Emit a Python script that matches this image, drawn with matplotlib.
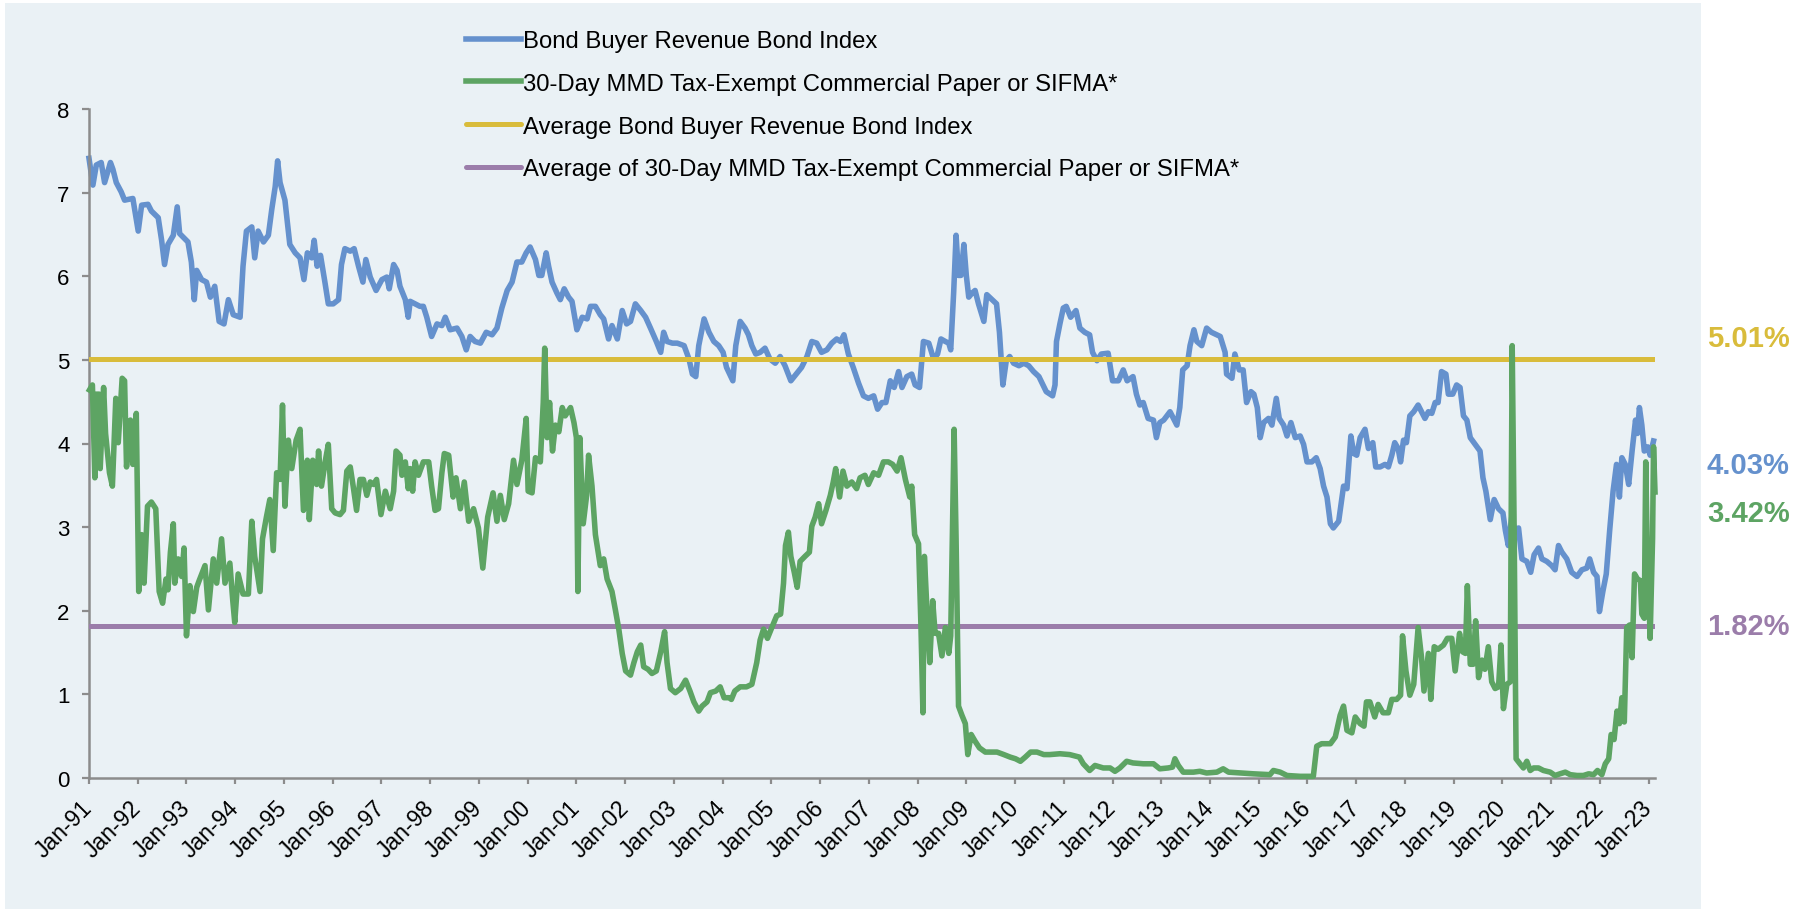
import matplotlib
matplotlib.use("Agg")
import matplotlib.pyplot as plt
from matplotlib.patches import Rectangle

plt.rcParams['font.family'] = ['Liberation Sans', 'DejaVu Sans']

# ---------------- data (decimal years, percent) ----------------
bond_x = [1991.00, 1991.08, 1991.15, 1991.25, 1991.32, 1991.44, 1991.49, 1991.56, 1991.66, 1991.73,
          1991.90, 1992.01, 1992.08, 1992.21, 1992.28, 1992.42, 1992.49, 1992.55, 1992.62, 1992.73,
          1992.81, 1992.86, 1993.03, 1993.10, 1993.16, 1993.21, 1993.31, 1993.41, 1993.49, 1993.58,
          1993.67, 1993.77, 1993.86, 1993.96, 1994.10, 1994.16, 1994.23, 1994.34, 1994.40, 1994.47,
          1994.58, 1994.68, 1994.75, 1994.82, 1994.87, 1994.92, 1995.02, 1995.12, 1995.23, 1995.33,
          1995.41, 1995.48, 1995.57, 1995.62, 1995.68, 1995.75, 1995.84, 1995.91, 1996.01, 1996.12,
          1996.18, 1996.25, 1996.36, 1996.44, 1996.53, 1996.62, 1996.68, 1996.77, 1996.89, 1997.01,
          1997.11, 1997.16, 1997.25, 1997.32, 1997.38, 1997.49, 1997.55,
          1997.59, 1997.69, 1997.79, 1997.86, 1997.93, 1998.03, 1998.14, 1998.24, 1998.31, 1998.41,
          1998.55, 1998.65, 1998.74, 1998.82, 1998.92, 1999.03, 1999.15, 1999.27, 1999.37, 1999.47,
          1999.58, 1999.68, 1999.78, 1999.88, 1999.97, 2000.05, 2000.16, 2000.23, 2000.29, 2000.38,
          2000.43, 2000.50, 2000.60, 2000.67, 2000.75, 2000.84, 2000.91, 2001.01, 2001.12, 2001.22,
          2001.29, 2001.39, 2001.49, 2001.56, 2001.66, 2001.73, 2001.84, 2001.94, 2002.03, 2002.11,
          2002.21, 2002.32, 2002.42, 2002.52, 2002.64, 2002.73, 2002.79, 2002.86, 2002.97, 2003.07,
          2003.21, 2003.31, 2003.38, 2003.45, 2003.51, 2003.62, 2003.72, 2003.82, 2003.92,
          2004.01, 2004.08, 2004.21, 2004.27, 2004.36, 2004.46, 2004.53, 2004.60, 2004.68, 2004.77,
          2004.87, 2004.97, 2005.08, 2005.18, 2005.28, 2005.40, 2005.51, 2005.62, 2005.73, 2005.83,
          2005.93, 2006.03, 2006.14, 2006.24, 2006.34, 2006.42, 2006.49, 2006.58, 2006.68, 2006.79,
          2006.89, 2006.99, 2007.10, 2007.18, 2007.27, 2007.35, 2007.44, 2007.52, 2007.61, 2007.68,
          2007.78, 2007.88, 2007.95, 2008.04, 2008.12, 2008.23, 2008.33, 2008.41, 2008.48, 2008.57,
          2008.64, 2008.68, 2008.74, 2008.79, 2008.84, 2008.89, 2008.95, 2009.00, 2009.05, 2009.12,
          2009.18, 2009.25, 2009.36, 2009.42, 2009.53, 2009.62, 2009.68, 2009.75, 2009.82, 2009.89,
          2009.97, 2010.08, 2010.18, 2010.28, 2010.38, 2010.49,
          2010.64, 2010.77, 2010.82, 2010.85, 2010.92, 2010.99, 2011.05, 2011.14, 2011.25, 2011.33,
          2011.43, 2011.53, 2011.59, 2011.68, 2011.77, 2011.91, 2012.00, 2012.12, 2012.22, 2012.30,
          2012.42, 2012.49, 2012.56, 2012.63, 2012.73, 2012.84, 2012.90, 2012.97, 2013.05, 2013.18,
          2013.32, 2013.38, 2013.44, 2013.53, 2013.59, 2013.67, 2013.73, 2013.83, 2013.93, 2014.03,
          2014.14, 2014.21, 2014.31, 2014.34, 2014.45, 2014.51, 2014.60, 2014.68, 2014.75, 2014.84,
          2014.90, 2014.97, 2015.03, 2015.10, 2015.20, 2015.27, 2015.36, 2015.42, 2015.51, 2015.58,
          2015.66, 2015.75, 2015.85, 2015.92, 2015.99, 2016.09, 2016.18, 2016.26, 2016.33, 2016.40,
          2016.47, 2016.53, 2016.64, 2016.74, 2016.81, 2016.89, 2016.95, 2017.01, 2017.08, 2017.18,
          2017.25,
          2017.34, 2017.40, 2017.49, 2017.59, 2017.66, 2017.73, 2017.79, 2017.86, 2017.91, 2017.97,
          2018.03, 2018.10, 2018.18, 2018.27, 2018.34, 2018.41, 2018.48, 2018.55, 2018.62, 2018.68,
          2018.75, 2018.84, 2018.89, 2018.98, 2019.06, 2019.13, 2019.20, 2019.27, 2019.34, 2019.44,
          2019.54, 2019.60, 2019.66, 2019.75, 2019.83, 2019.92, 2020.01, 2020.06, 2020.12, 2020.19,
          2020.26, 2020.33, 2020.40, 2020.50, 2020.58, 2020.65, 2020.74, 2020.81, 2020.91, 2021.01,
          2021.08, 2021.15, 2021.22, 2021.32, 2021.42, 2021.53, 2021.63, 2021.73, 2021.79, 2021.87,
          2021.94, 2021.99, 2022.06, 2022.13, 2022.20, 2022.27, 2022.34, 2022.40, 2022.45, 2022.52,
          2022.59, 2022.66, 2022.73, 2022.77, 2022.81, 2022.86, 2022.91, 2022.98, 2023.03, 2023.10]
bond_y = [7.41, 7.09, 7.33, 7.36, 7.12, 7.36, 7.28, 7.12, 7.01, 6.91,
          6.93, 6.54, 6.85, 6.86, 6.78, 6.70, 6.43, 6.14, 6.38, 6.49,
          6.83, 6.51, 6.41, 6.17, 5.72, 6.07, 5.96, 5.93, 5.75, 5.88,
          5.46, 5.43, 5.72, 5.54, 5.51, 6.12, 6.54, 6.59, 6.22, 6.54,
          6.41, 6.49, 6.80, 7.07, 7.38, 7.12, 6.91, 6.38, 6.28, 6.22,
          5.96, 6.28, 6.22, 6.43, 6.12, 6.25, 5.93, 5.67, 5.67, 5.72,
          6.14, 6.33, 6.30, 6.33, 6.12, 5.93, 6.20, 5.99, 5.83, 5.96,
          5.99, 5.85, 6.14, 6.07, 5.88, 5.72, 5.51,
          5.70, 5.67, 5.64, 5.64, 5.51, 5.28, 5.43, 5.41, 5.51, 5.36,
          5.38, 5.28, 5.12, 5.28, 5.22, 5.20, 5.33, 5.30, 5.38, 5.62,
          5.83, 5.93, 6.17, 6.17, 6.28, 6.35, 6.20, 6.01, 6.01, 6.28,
          6.12, 5.93, 5.80, 5.72, 5.85, 5.75, 5.70, 5.36, 5.51, 5.49,
          5.64, 5.64, 5.54, 5.49, 5.25, 5.41, 5.25, 5.59, 5.43, 5.46,
          5.67, 5.59, 5.51, 5.38, 5.22, 5.09, 5.33, 5.22, 5.20, 5.20,
          5.17, 5.01, 4.83, 4.80, 5.17, 5.49, 5.33, 5.22, 5.17,
          5.09, 4.91, 4.75, 5.17, 5.46, 5.38, 5.30, 5.17, 5.07, 5.09,
          5.14, 5.01, 4.96, 5.04, 4.93, 4.75, 4.83, 4.91, 5.04, 5.22,
          5.20, 5.09, 5.12, 5.20, 5.25, 5.22, 5.30, 5.07, 4.91, 4.72,
          4.57, 4.54, 4.57, 4.41, 4.49, 4.49, 4.75, 4.67, 4.86, 4.67,
          4.80, 4.83, 4.70, 4.67, 5.22, 5.20, 5.01, 5.07, 5.25, 5.22,
          5.20, 5.12, 5.80, 6.49, 6.01, 6.01, 6.38, 6.01, 5.75, 5.80,
          5.83, 5.67, 5.46, 5.78, 5.72, 5.67, 5.33, 4.70, 4.99, 5.04,
          4.96, 4.93, 4.96, 4.93, 4.86, 4.80,
          4.62, 4.57, 4.70, 5.22, 5.43, 5.62, 5.64, 5.51, 5.59, 5.38,
          5.33, 5.30, 5.09, 4.99, 5.07, 5.08, 4.75, 4.75, 4.88, 4.75,
          4.80, 4.59, 4.46, 4.49, 4.30, 4.28, 4.07, 4.25, 4.28, 4.38,
          4.22, 4.43, 4.88, 4.93, 5.17, 5.36, 5.22, 5.17, 5.38, 5.33,
          5.30, 5.28, 5.09, 4.83, 4.78, 5.07, 4.88, 4.88, 4.49, 4.62,
          4.59, 4.43, 4.07, 4.25, 4.30, 4.22, 4.54, 4.30, 4.22, 4.09,
          4.25, 4.07, 4.09, 3.99, 3.78, 3.78, 3.83, 3.70, 3.49, 3.36,
          3.04, 2.99, 3.07, 3.49, 3.46, 4.09, 3.88, 3.86, 4.07, 4.17,
          3.94,
          4.01, 3.72, 3.72, 3.75, 3.72, 3.86, 4.01, 3.94, 3.78, 4.04,
          4.01, 4.33, 4.38, 4.46, 4.38, 4.30, 4.38, 4.36, 4.49, 4.49,
          4.86, 4.83, 4.59, 4.59, 4.70, 4.67, 4.33, 4.28, 4.07, 3.99,
          3.91, 3.59, 3.43, 3.09, 3.33, 3.22, 3.17, 2.96, 2.78, 3.12,
          2.94, 2.99, 2.62, 2.59, 2.46, 2.67, 2.75, 2.62, 2.59, 2.54,
          2.49, 2.78, 2.70, 2.62, 2.46, 2.41, 2.49, 2.51, 2.62, 2.46,
          2.41, 1.99, 2.23, 2.44, 2.96, 3.43, 3.75, 3.36, 3.83, 3.75,
          3.51, 3.91, 4.28, 4.12, 4.43, 4.22, 3.91, 3.96, 3.86, 4.03]

sifma_x = [1991.01, 1991.07, 1991.12, 1991.15, 1991.21, 1991.23, 1991.30, 1991.34, 1991.42, 1991.48,
           1991.55, 1991.60, 1991.68, 1991.73, 1991.77, 1991.85, 1991.90, 1991.97, 1992.02, 1992.08,
           1992.13, 1992.20, 1992.28, 1992.37, 1992.44, 1992.51, 1992.58, 1992.62, 1992.67, 1992.73,
           1992.76, 1992.83, 1992.90, 1992.95, 1993.00, 1993.07, 1993.14, 1993.21, 1993.26, 1993.38,
           1993.45, 1993.55, 1993.62, 1993.72, 1993.79, 1993.89, 1993.95, 1993.99, 1994.06, 1994.16,
           1994.27, 1994.34, 1994.40, 1994.51, 1994.56, 1994.64, 1994.71, 1994.78, 1994.85, 1994.92,
           1994.97, 1995.02, 1995.09, 1995.16, 1995.25, 1995.33, 1995.40, 1995.48, 1995.52, 1995.59,
           1995.67, 1995.71, 1995.77, 1995.86, 1995.91, 1995.98, 1996.05, 1996.15, 1996.22, 1996.29,
           1996.36, 1996.42, 1996.49, 1996.56, 1996.63, 1996.70, 1996.77, 1996.84, 1996.90, 1996.99,
           1997.08, 1997.18, 1997.25, 1997.30, 1997.38, 1997.42, 1997.49, 1997.55,
           1997.59, 1997.64, 1997.69, 1997.76, 1997.86, 1997.97, 1998.03, 1998.10, 1998.17, 1998.24,
           1998.29, 1998.38, 1998.47, 1998.53, 1998.62, 1998.70, 1998.79, 1998.89, 1998.99, 1999.08,
           1999.18, 1999.29, 1999.37, 1999.44, 1999.52, 1999.61, 1999.71, 1999.78, 1999.88, 1999.97,
           2000.01, 2000.09, 2000.16, 2000.26, 2000.32, 2000.35, 2000.40, 2000.45, 2000.51, 2000.57,
           2000.64, 2000.71, 2000.77, 2000.88, 2000.95, 2001.00, 2001.03, 2001.07, 2001.14, 2001.21,
           2001.25, 2001.32, 2001.39, 2001.49, 2001.56, 2001.63, 2001.73, 2001.80, 2001.87, 2001.94,
           2002.01, 2002.11, 2002.18, 2002.25, 2002.32, 2002.38, 2002.47, 2002.55, 2002.64, 2002.73,
           2002.81, 2002.86, 2002.93, 2003.03, 2003.14, 2003.24, 2003.33, 2003.41, 2003.51, 2003.58,
           2003.68, 2003.75, 2003.86, 2003.95, 2004.03, 2004.13,
           2004.18, 2004.25, 2004.36, 2004.49, 2004.60, 2004.70, 2004.77, 2004.84, 2004.92, 2005.01,
           2005.11, 2005.19, 2005.25, 2005.29, 2005.35, 2005.40, 2005.47, 2005.53, 2005.59, 2005.69,
           2005.78, 2005.83, 2005.90, 2005.97, 2006.03, 2006.12, 2006.21, 2006.27, 2006.32, 2006.40,
           2006.47, 2006.55, 2006.65, 2006.75, 2006.82, 2006.92, 2006.99, 2007.10, 2007.20, 2007.30,
           2007.40, 2007.49, 2007.58, 2007.66, 2007.75, 2007.84, 2007.88, 2007.94, 2008.02, 2008.07,
           2008.11, 2008.14, 2008.21, 2008.25, 2008.31, 2008.36, 2008.43, 2008.50, 2008.57, 2008.64,
           2008.68, 2008.72, 2008.75, 2008.79, 2008.84, 2008.91, 2008.98, 2009.03, 2009.10, 2009.18,
           2009.27, 2009.39, 2009.49, 2009.63, 2009.77, 2009.90, 2010.01, 2010.11, 2010.21, 2010.32,
           2010.45, 2010.59, 2010.69,
           2010.71, 2010.92, 2011.12, 2011.32, 2011.40, 2011.53, 2011.64, 2011.81, 2011.95, 2012.05,
           2012.15, 2012.29, 2012.42, 2012.63, 2012.84, 2012.97, 2013.14, 2013.23, 2013.28, 2013.35,
           2013.45, 2013.66, 2013.79, 2013.93, 2014.14, 2014.27, 2014.38, 2014.62, 2014.89, 2015.23,
           2015.30, 2015.44, 2015.58, 2015.85, 2016.12, 2016.19, 2016.29, 2016.47, 2016.57, 2016.67,
           2016.74, 2016.81, 2016.91, 2016.98, 2017.08, 2017.16, 2017.21,
           2017.28, 2017.38, 2017.45, 2017.55, 2017.66, 2017.73, 2017.83, 2017.91, 2017.95, 2018.02,
           2018.10, 2018.18, 2018.27, 2018.34, 2018.39, 2018.48, 2018.53, 2018.60, 2018.68, 2018.79,
           2018.87, 2018.96, 2019.03, 2019.12, 2019.18, 2019.24, 2019.28, 2019.34, 2019.40, 2019.45,
           2019.51, 2019.58, 2019.64, 2019.71, 2019.78, 2019.85, 2019.92, 2019.97, 2020.02, 2020.09,
           2020.16, 2020.20, 2020.24, 2020.28, 2020.36, 2020.43, 2020.50, 2020.57, 2020.64, 2020.74,
           2020.84, 2020.98, 2021.08, 2021.18, 2021.29, 2021.39, 2021.53, 2021.66, 2021.77, 2021.87,
           2021.95, 2022.04, 2022.11, 2022.18, 2022.23, 2022.29, 2022.35, 2022.40, 2022.45, 2022.50,
           2022.55, 2022.61, 2022.66, 2022.71, 2022.77, 2022.83, 2022.86, 2022.91, 2022.94, 2022.98,
           2023.01, 2023.03, 2023.08, 2023.10, 2023.13]
sifma_y = [4.64, 4.70, 3.59, 4.59, 4.59, 3.70, 4.67, 4.12, 3.65, 3.49,
           4.54, 4.01, 4.78, 4.75, 3.72, 4.28, 3.75, 4.36, 2.23, 2.91,
           2.33, 3.25, 3.30, 3.22, 2.23, 2.09, 2.38, 2.25, 2.70, 3.04,
           2.33, 2.62, 2.41, 2.75, 1.70, 2.30, 1.99, 2.28, 2.36, 2.54,
           2.01, 2.62, 2.33, 2.86, 2.33, 2.57, 2.12, 1.86, 2.44, 2.20,
           2.20, 3.07, 2.65, 2.23, 2.86, 3.12, 3.33, 2.72, 3.65, 3.57,
           4.46, 3.25, 4.04, 3.70, 4.04, 4.17, 3.20, 3.80, 3.09, 3.80,
           3.51, 3.91, 3.49, 3.83, 3.99, 3.22, 3.17, 3.15, 3.20, 3.67,
           3.72, 3.49, 3.20, 3.57, 3.57, 3.38, 3.54, 3.51, 3.57, 3.15,
           3.43, 3.22, 3.43, 3.91, 3.86, 3.62, 3.78, 3.46,
           3.70, 3.43, 3.78, 3.62, 3.78, 3.78, 3.49, 3.20, 3.22, 3.65,
           3.88, 3.86, 3.36, 3.59, 3.22, 3.54, 3.07, 3.22, 2.99, 2.51,
           3.12, 3.41, 3.07, 3.38, 3.09, 3.28, 3.80, 3.51, 3.80, 4.30,
           3.43, 3.41, 3.83, 3.78, 4.49, 5.14, 4.07, 4.49, 3.91, 4.22,
           4.14, 4.43, 4.33, 4.43, 4.25, 4.07, 2.23, 4.07, 3.04, 3.38,
           3.86, 3.49, 2.91, 2.54, 2.62, 2.38, 2.23, 2.01, 1.78, 1.49,
           1.28, 1.23, 1.38, 1.51, 1.59, 1.33, 1.30, 1.25, 1.28, 1.51,
           1.75, 1.38, 1.07, 1.02, 1.07, 1.17, 1.04, 0.91, 0.80, 0.86,
           0.91, 1.02, 1.04, 1.09, 0.96, 0.96,
           0.94, 1.04, 1.09, 1.09, 1.12, 1.38, 1.65, 1.78, 1.67, 1.80,
           1.94, 1.96, 2.33, 2.78, 2.94, 2.65, 2.46, 2.28, 2.59, 2.65,
           2.70, 3.01, 3.12, 3.28, 3.04, 3.20, 3.38, 3.54, 3.70, 3.36,
           3.67, 3.49, 3.54, 3.46, 3.59, 3.62, 3.51, 3.65, 3.62, 3.78,
           3.78, 3.75, 3.67, 3.83, 3.57, 3.36, 3.49, 2.91, 2.80, 1.80,
           0.78, 2.65, 1.80, 1.38, 2.12, 1.73, 1.73, 1.46, 1.80, 1.49,
           1.70, 3.12, 4.17, 2.86, 0.86, 0.75, 0.65, 0.28, 0.52, 0.44,
           0.36, 0.31, 0.31, 0.31, 0.28, 0.25, 0.23, 0.20, 0.25, 0.31,
           0.31, 0.28, 0.28,
           0.28, 0.29, 0.28, 0.25, 0.17, 0.09, 0.15, 0.12, 0.12, 0.08,
           0.12, 0.20, 0.18, 0.17, 0.17, 0.11, 0.12, 0.13, 0.23, 0.15,
           0.07, 0.07, 0.08, 0.06, 0.07, 0.11, 0.07, 0.06, 0.05, 0.04,
           0.09, 0.07, 0.03, 0.02, 0.02, 0.38, 0.41, 0.41, 0.49, 0.75,
           0.86, 0.57, 0.54, 0.73, 0.65, 0.62, 0.91,
           0.91, 0.73, 0.88, 0.78, 0.78, 0.94, 0.94, 0.99, 1.70, 1.28,
           0.99, 1.12, 1.80, 1.44, 1.04, 1.49, 0.94, 1.57, 1.54, 1.59,
           1.67, 1.67, 1.28, 1.73, 1.51, 1.49, 2.30, 1.36, 1.36, 1.88,
           1.20, 1.41, 1.30, 1.57, 1.15, 1.07, 1.09, 1.59, 0.83, 1.12,
           1.15, 5.17, 2.96, 0.23, 0.17, 0.12, 0.20, 0.09, 0.12, 0.12,
           0.09, 0.07, 0.03, 0.05, 0.07, 0.04, 0.03, 0.03, 0.05, 0.04,
           0.09, 0.04, 0.17, 0.23, 0.52, 0.46, 0.80, 0.65, 0.96, 0.67,
           1.80, 1.83, 1.44, 2.44, 2.38, 2.36, 1.96, 1.91, 3.78, 2.38,
           2.07, 1.67, 2.86, 3.96, 3.42]

avg_bond = 5.01
avg_sifma = 1.82
x_start, x_end = 1991.0, 2023.13

tick_years = list(range(1991, 2024))
tick_labels = [f"Jan-{y % 100:02d}" for y in tick_years]
y_ticks = [0, 1, 2, 3, 4, 5, 6, 7, 8]

series_labels = ["Bond Buyer Revenue Bond Index",
                 "30-Day MMD Tax-Exempt Commercial Paper or SIFMA*",
                 "Average Bond Buyer Revenue Bond Index",
                 "Average of 30-Day MMD Tax-Exempt Commercial Paper or SIFMA*"]

# ---------------- style ----------------
C_BLUE = '#6591CD'
C_GREEN = '#5DA463'
C_YELLOW = '#D9BC3B'
C_PURPLE = '#9B7DAA'
C_PANEL = '#EAF1F5'
C_AXIS = '#8C8C8C'

fig = plt.figure(figsize=(18.15, 9.12), dpi=100)
fig.patch.set_facecolor('white')
fig.add_artist(Rectangle((5 / 1815, 2 / 912), 1696 / 1815, 906 / 912,
                         transform=fig.transFigure, facecolor=C_PANEL,
                         edgecolor='none', zorder=-10))

ax = fig.add_axes([89 / 1815, 133 / 912, 1566 / 1815, 669 / 912])
ax.set_facecolor('none')

l_bond, = ax.plot(bond_x, bond_y, color=C_BLUE, lw=4.0, zorder=2,
                  solid_joinstyle='round', clip_on=False)
l_avg_b = ax.axhline(avg_bond, color=C_YELLOW, lw=3.6, zorder=3, solid_capstyle='round')
l_avg_s = ax.axhline(avg_sifma, color=C_PURPLE, lw=3.6, zorder=3, solid_capstyle='round')
l_sifma, = ax.plot(sifma_x, sifma_y, color=C_GREEN, lw=4.0, zorder=4,
                   solid_joinstyle='round', clip_on=False)

ax.set_xlim(x_start, x_end)
ax.set_ylim(0, 8)
ax.set_xticks(tick_years)
ax.set_xticklabels(tick_labels, rotation=45, ha='right', va='center',
                   rotation_mode='anchor')
ax.set_yticks(y_ticks)

for s in ['top', 'right']:
    ax.spines[s].set_visible(False)
for s in ['left', 'bottom']:
    ax.spines[s].set_color(C_AXIS)
    ax.spines[s].set_linewidth(1.8)

ax.tick_params(axis='y', direction='out', length=5, width=1.6, color=C_AXIS,
               labelsize=16, pad=9)
ax.tick_params(axis='x', direction='out', length=4.5, width=1.6, color=C_AXIS,
               labelsize=16.5, pad=14)

ax.legend([l_bond, l_sifma, l_avg_b, l_avg_s], series_labels,
          loc='upper left', bbox_to_anchor=(466 / 1815, 1 - 31 / 912),
          bbox_transform=fig.transFigure, frameon=False, fontsize=17.2,
          handlelength=2.3, handletextpad=0.1, labelspacing=0.87,
          borderpad=0, borderaxespad=0)

lab_kw = dict(xycoords=('axes fraction', 'data'), textcoords='offset points',
              ha='left', va='center', fontsize=21, fontweight='bold',
              annotation_clip=False)
ax.annotate(f"{avg_bond:.2f}%", xy=(1.0332, avg_bond), xytext=(0, 15),
            color=C_YELLOW, **lab_kw)
ax.annotate(f"{bond_y[-1]:.2f}%", xy=(1.0332, bond_y[-1]), xytext=(0, -17),
            color=C_BLUE, **lab_kw)
ax.annotate(f"{sifma_y[-1]:.2f}%", xy=(1.0332, sifma_y[-1]), xytext=(0, -15),
            color=C_GREEN, **lab_kw)
ax.annotate(f"{avg_sifma:.2f}%", xy=(1.0332, avg_sifma), xytext=(0, 0),
            color=C_PURPLE, **lab_kw)

fig.savefig('out.png', dpi=100)
